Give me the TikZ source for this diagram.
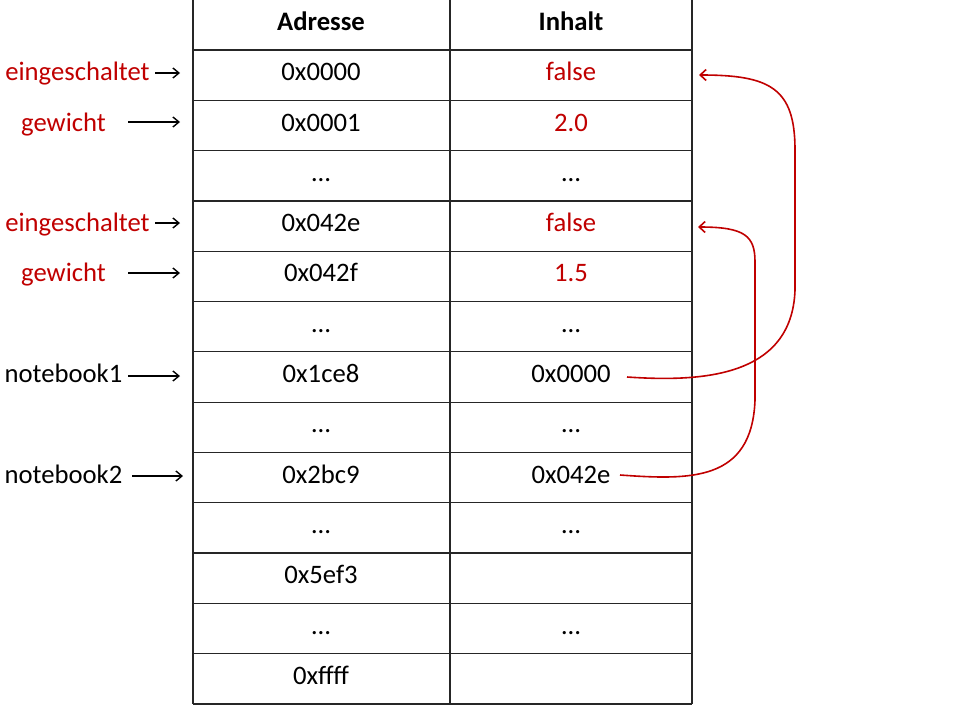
\documentclass[tikz,border=0pt]{standalone}
\usepackage{fontspec}
\setmainfont{Carlito}
\usetikzlibrary{arrows.meta}
\definecolor{ptrred}{RGB}{192,0,0}
\begin{document}
\begin{tikzpicture}[x=1pt,y=-1pt,
  every node/.style={font=\fontsize{26.67}{32}\selectfont, inner sep=0pt},
  cell/.style={anchor=base},
  hdr/.style={anchor=base, font=\fontsize{26.67}{32}\selectfont\bfseries},
  redtxt/.style={text=ptrred},
  grid/.style={line width=1.2pt, black!85},
  blackarrow/.style={line width=1.4pt, -{Straight Barb[length=6pt,width=10pt,line width=1.4pt]}},
  redarrow/.style={line width=1.6pt, ptrred, -{Straight Barb[length=6pt,width=11pt,line width=1.6pt]}}]
\useasboundingbox (0,0) rectangle (960,720);
% table grid
\draw[grid] (193,0) -- (193,704);
\draw[grid] (450,0) -- (450,704);
\draw[grid] (692,0) -- (692,704);
\foreach \k in {0,...,13}{
  \draw[grid] (193,50+\k*50.3) -- (692,50+\k*50.3);
}
% header
\node[hdr] (a0) at (321,30.5) {Adresse};
\node[hdr] (i0) at (571,30.5) {Inhalt};
% rows: baseline = 50 + (i-0.5)*50.3 + 5.5
\node[cell] (a1) at (321,80.7) {0x0000};
\node[cell,redtxt] (i1) at (571,80.7) {false};
\node[cell] (a2) at (321,131.0) {0x0001};
\node[cell,redtxt] (i2) at (571,131.0) {2.0};
\node[cell] (a3) at (321,181.3) {…};
\node[cell] (i3) at (571,181.3) {…};
\node[cell] (a4) at (321,231.6) {0x042e};
\node[cell,redtxt] (i4) at (571,231.6) {false};
\node[cell] (a5) at (321,281.9) {0x042f};
\node[cell,redtxt] (i5) at (571,281.9) {1.5};
\node[cell] (a6) at (321,332.2) {…};
\node[cell] (i6) at (571,332.2) {…};
\node[cell] (a7) at (321,382.5) {0x1ce8};
\node[cell] (i7) at (571,382.5) {0x0000};
\node[cell] (a8) at (321,432.8) {…};
\node[cell] (i8) at (571,432.8) {…};
\node[cell] (a9) at (321,483.1) {0x2bc9};
\node[cell] (i9) at (571,483.1) {0x042e};
\node[cell] (a10) at (321,533.4) {…};
\node[cell] (i10) at (571,533.4) {…};
\node[cell] (a11) at (321,583.7) {0x5ef3};
\node[cell] (a12) at (321,634.0) {…};
\node[cell] (i12) at (571,634.0) {…};
\node[cell] (a13) at (321,684.3) {0xffff};
% left labels
\node[cell,redtxt] (l1) at (77.5,80.7) {eingeschaltet};
\node[cell,redtxt] (l2) at (63.5,131.0) {gewicht};
\node[cell,redtxt] (l4) at (77.5,231.6) {eingeschaltet};
\node[cell,redtxt] (l5) at (63.5,281.9) {gewicht};
\node[cell] (l7) at (63.5,382.5) {notebook1};
\node[cell] (l9) at (63.5,483.1) {notebook2};
% arrow coordinates
\coordinate (p1s) at (155,73);  \coordinate (p1e) at (180,73);
\coordinate (p2s) at (128,122); \coordinate (p2e) at (180,122);
\coordinate (p4s) at (155,223); \coordinate (p4e) at (180,223);
\coordinate (p5s) at (128,273); \coordinate (p5e) at (180,273);
\coordinate (p7s) at (128,376); \coordinate (p7e) at (180,376);
\coordinate (p9s) at (132,476); \coordinate (p9e) at (183,476);
\draw[blackarrow] (p1s) -- (p1e);
\draw[blackarrow] (p2s) -- (p2e);
\draw[blackarrow] (p4s) -- (p4e);
\draw[blackarrow] (p5s) -- (p5e);
\draw[blackarrow] (p7s) -- (p7e);
\draw[blackarrow] (p9s) -- (p9e);
% pointer curves
\coordinate (s1) at (627,377); \coordinate (t1) at (699,75);
\coordinate (s2) at (620,475); \coordinate (t2) at (698,227);
\draw[redarrow] (s1) .. controls (700,382) and (792,378) .. (795,290)
  -- (795,150) .. controls (795,88) and (770,75) .. (t1);
\draw[redarrow] (s2) .. controls (690,480) and (752,482) .. (755,400)
  -- (755,262) .. controls (755,236) and (745,227) .. (t2);
\end{tikzpicture}
\end{document}
